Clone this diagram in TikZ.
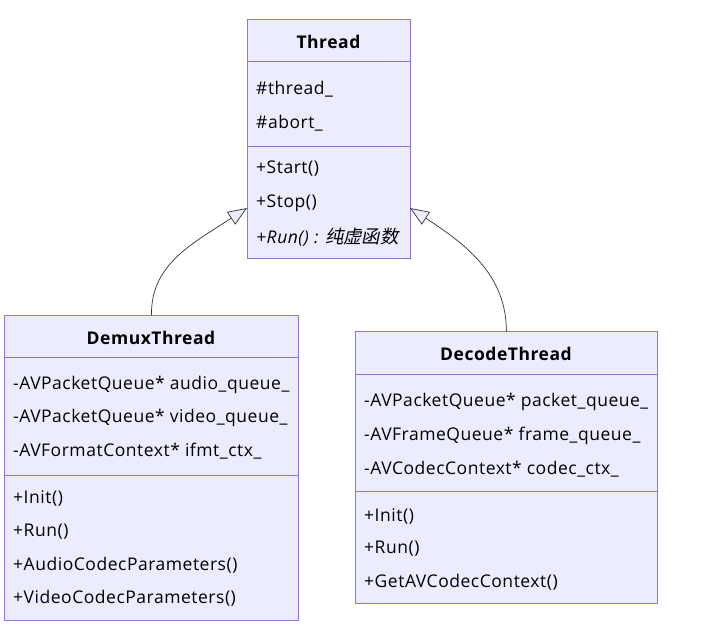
\documentclass[tikz,border=0pt]{standalone}
\usepackage{fontspec}
\setmainfont[LetterSpace=3]{Open Sans}
\newfontfamily\cjk[FakeSlant=0.2,Scale=1.05]{Noto Sans CJK SC}
\usetikzlibrary{arrows.meta,positioning}
\definecolor{umlfill}{HTML}{ECECFF}
\definecolor{umlborder}{HTML}{9370DB}
\definecolor{umlline}{HTML}{333333}
\newcommand{\umlsize}{\fontsize{17.5}{21}\selectfont}
\tikzstyle{classbox}=[draw=umlborder, fill=umlfill, line width=0.9pt, inner sep=0pt, anchor=north west]
\tikzstyle{classname}=[font=\umlsize\bfseries, inner sep=0pt]
\tikzstyle{member}=[font=\umlsize, anchor=west, inner sep=0pt]
\tikzstyle{divider}=[draw=umlborder, line width=0.9pt]
\tikzstyle{inherit}=[draw=umlline, line width=0.7pt, -{Triangle[open, length=19pt, width=15pt, fill=umlfill]}]

\begin{document}
\begin{tikzpicture}[x=1pt,y=-1pt]
        \useasboundingbox (0,0) rectangle (719,632);
        % base class
        \node [classbox, minimum width=163, minimum height=239] (thread) at (247,19) {};
        \draw [divider] (247,61) -- (410,61);
        \draw [divider] (247,146) -- (410,146);
        \node [classname] (threadname) at (328.5,42) {Thread};
        \node [member] (thread1) at (256,89) {\#thread\_};
        \node [member] (thread2) at (256,123) {\#abort\_};
        \node [member] (thread3) at (256,169) {+Start()};
        \node [member] (thread4) at (256,203) {+Stop()};
        \node [member] (thread5) at (256,237) {\itshape +Run() : {\cjk 纯虚函数}};
        % demux
        \node [classbox, minimum width=294, minimum height=305] (demux) at (4,315) {};
        \draw [divider] (4,357) -- (298,357);
        \draw [divider] (4,475) -- (298,475);
        \node [classname] (demuxname) at (151,338) {DemuxThread};
        \node [member] (demux1) at (13,385) {-AVPacketQueue* audio\_queue\_};
        \node [member] (demux2) at (13,418) {-AVPacketQueue* video\_queue\_};
        \node [member] (demux3) at (13,451) {-AVFormatContext* ifmt\_ctx\_};
        \node [member] (demux4) at (13,498) {+Init()};
        \node [member] (demux5) at (13,532) {+Run()};
        \node [member] (demux6) at (13,565) {+AudioCodecParameters()};
        \node [member] (demux7) at (13,598) {+VideoCodecParameters()};
        % decode
        \node [classbox, minimum width=302, minimum height=272] (decode) at (355,331) {};
        \draw [divider] (355,374) -- (657,374);
        \draw [divider] (355,491) -- (657,491);
        \node [classname] (decodename) at (506,354) {DecodeThread};
        \node [member] (decode1) at (364,402) {-AVPacketQueue* packet\_queue\_};
        \node [member] (decode2) at (364,436) {-AVFrameQueue* frame\_queue\_};
        \node [member] (decode3) at (364,469) {-AVCodecContext* codec\_ctx\_};
        \node [member] (decode4) at (364,516) {+Init()};
        \node [member] (decode5) at (364,549) {+Run()};
        \node [member] (decode6) at (364,582) {+GetAVCodecContext()};
        % inheritance
        \coordinate (tipl) at (247,208);
        \coordinate (tipr) at (410,208);
        \path [inherit] (demux.north) .. controls (151,265) and (190,245) .. (tipl);
        \path [inherit] (decode.north) .. controls (506,275) and (467,245) .. (tipr);
    \end{tikzpicture}
\end{document}
